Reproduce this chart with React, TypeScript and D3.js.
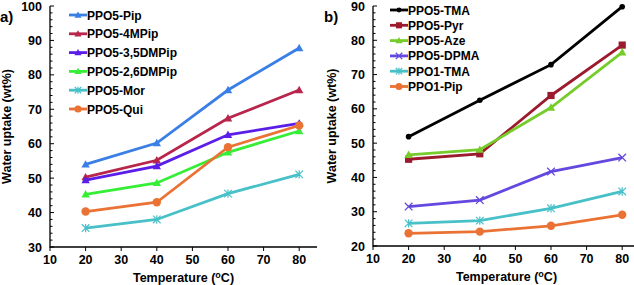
import React from "react";
import * as d3 from "d3";

const temps = [20, 40, 60, 80];
const xTicks = [10, 20, 30, 40, 50, 60, 70, 80];

const namesA = ["PPO5-Pip", "PPO5-4MPip", "PPO5-3,5DMPip", "PPO5-2,6DMPip", "PPO5-Mor", "PPO5-Qui"];
const pip = [54.0, 60.2, 75.6, 87.8];
const mPip4 = [50.3, 55.2, 67.4, 75.6];
const dmPip35 = [49.4, 53.5, 62.6, 65.9];
const dmPip26 = [45.3, 48.6, 57.5, 63.7];
const mor = [35.5, 38.0, 45.5, 51.1];
const qui = [40.3, 43.0, 59.0, 65.3];
const colorsA = ["#3a7fe6", "#b8264c", "#5a1ee8", "#36ee36", "#48c0c8", "#ea7234"];
const markersA = ["tri", "tri", "tri", "tri", "star", "circle"];
const yTicksA = [30, 40, 50, 60, 70, 80, 90, 100];

const namesB = ["PPO5-TMA", "PPO5-Pyr", "PPO5-Aze", "PPO5-DPMA", "PPO1-TMA", "PPO1-Pip"];
const tma5 = [51.9, 62.5, 72.9, 89.8];
const pyr = [45.3, 46.9, 63.9, 78.6];
const aze = [46.6, 48.1, 60.4, 76.5];
const dpma = [31.5, 33.4, 41.7, 45.8];
const tma1 = [26.6, 27.4, 31.0, 35.9];
const pip1 = [23.7, 24.2, 25.9, 29.1];
const colorsB = ["#000000", "#9c1a2e", "#76cc2a", "#6448e0", "#48c0c8", "#ea7234"];
const markersB = ["dot", "square", "tri", "cross", "star", "circle"];
const yTicksB = [20, 30, 40, 50, 60, 70, 80, 90];

const FONT = "'Liberation Sans', Arial, sans-serif";

function Marker({ type, x, y, color, scale = 1 }: any) {
  const s = scale;
  if (type === "tri") {
    const r = 4.2 * s;
    return <path d={`M${x},${y - r}L${x + r},${y + r * 0.75}L${x - r},${y + r * 0.75}Z`} fill={color} />;
  }
  if (type === "circle") return <circle cx={x} cy={y} r={4.2 * s} fill={color} />;
  if (type === "dot") return <circle cx={x} cy={y} r={2.8 * s} fill={color} />;
  if (type === "square") {
    const r = 3.6 * s;
    return <rect x={x - r} y={y - r} width={2 * r} height={2 * r} fill={color} />;
  }
  if (type === "cross") {
    const r = 3.8 * s;
    return (
      <path d={`M${x - r},${y - r}L${x + r},${y + r}M${x - r},${y + r}L${x + r},${y - r}`} stroke={color} strokeWidth={1.3} />
    );
  }
  const r = 3.8 * s;
  return (
    <path
      d={`M${x - r},${y - r}L${x + r},${y + r}M${x - r},${y + r}L${x + r},${y - r}M${x},${y - r * 1.1}L${x},${y + r * 1.1}`}
      stroke={color}
      strokeWidth={1.2}
    />
  );
}

function Panel({ ox, labelX, yAxisX, yTop, yBot, yDomain, yTicks, series, names, colors, markers, tag, legend }: any) {
  const x = d3.scaleLinear().domain([10, 85]).range([yAxisX, yAxisX + 267]);
  const y = d3.scaleLinear().domain(yDomain).range([yBot, yTop]);
  const line = d3
    .line<number>()
    .x((_, i) => x(temps[i]))
    .y((d) => y(d));
  const minor = d3.range(yDomain[0], yDomain[1] + 0.001, 2);
  const xEnd = x(85);
  return (
    <g>
      <text x={ox} y={22} fontSize={15} fontWeight="bold" fontFamily={FONT}>{tag}</text>
      <text
        transform={`translate(${labelX},${(yTop + yBot) / 2}) rotate(-90)`}
        textAnchor="middle"
        fontSize={12.5}
        fontWeight="bold"
        fontFamily={FONT}
      >
        Water uptake (wt%)
      </text>
      <path d={`M${yAxisX},${yTop}V${yBot}H${xEnd}`} fill="none" stroke="#000" strokeWidth={1.3} />
      {minor.map((v: number) => {
        const major = (v - yDomain[0]) % 10 === 0;
        return (
          <line key={v} x1={yAxisX} x2={yAxisX + (major ? 4 : 2.5)} y1={y(v)} y2={y(v)} stroke="#000" strokeWidth={1} />
        );
      })}
      {yTicks.map((v: number) => (
        <text key={v} x={yAxisX - 8} y={y(v) + 4.5} textAnchor="end" fontSize={12.5} fontWeight="bold" fontFamily={FONT}>
          {v}
        </text>
      ))}
      {xTicks.map((v: number) => (
        <g key={v}>
          <line x1={x(v)} x2={x(v)} y1={yBot} y2={yBot + 4} stroke="#000" strokeWidth={1} />
          <text x={x(v)} y={yBot + 17} textAnchor="middle" fontSize={12.5} fontWeight="bold" fontFamily={FONT}>
            {v}
          </text>
        </g>
      ))}
      <text x={(yAxisX + xEnd) / 2} y={yBot + 35} textAnchor="middle" fontSize={12.5} fontWeight="bold" fontFamily={FONT}>
        Temperature (<tspan dy={-4} fontSize={9}>o</tspan><tspan dy={4}>C)</tspan>
      </text>
      {series.map((s: number[], i: number) => (
        <g key={i}>
          <path d={line(s) || ""} fill="none" stroke={colors[i]} strokeWidth={2.8} />
          {s.map((v: number, j: number) => (
            <Marker key={j} type={markers[i]} x={x(temps[j])} y={y(v)} color={colors[i]} />
          ))}
        </g>
      ))}
      {names.map((n: string, i: number) => {
        const ly = legend.y0 + i * legend.dy;
        return (
          <g key={n}>
            <line x1={legend.x} x2={legend.x + 18} y1={ly} y2={ly} stroke={colors[i]} strokeWidth={2.8} />
            <Marker type={markers[i]} x={legend.x + 9} y={ly} color={colors[i]} scale={0.85} />
            <text x={legend.x + 18} y={ly + 4.5} fontSize={12} fontWeight="bold" fontFamily={FONT}>
              {n}
            </text>
          </g>
        );
      })}
    </g>
  );
}

export default function App() {
  return (
    <svg width={634} height={285} style={{ position: "absolute", left: 0, top: 0 }}>
      <rect width={634} height={285} fill="#fff" />
      <Panel
        ox={0}
        labelX={11}
        yAxisX={50}
        yTop={6}
        yBot={247}
        yDomain={[30, 100]}
        yTicks={yTicksA}
        series={[pip, mPip4, dmPip35, dmPip26, mor, qui]}
        names={namesA}
        colors={colorsA}
        markers={markersA}
        tag="a)"
        legend={{ x: 69, y0: 15, dy: 18.8 }}
      />
      <Panel
        ox={324}
        labelX={336}
        yAxisX={373}
        yTop={6}
        yBot={246}
        yDomain={[20, 90]}
        yTicks={yTicksB}
        series={[tma5, pyr, aze, dpma, tma1, pip1]}
        names={namesB}
        colors={colorsB}
        markers={markersB}
        tag="b)"
        legend={{ x: 390, y0: 10, dy: 15.3 }}
      />
    </svg>
  );
}
